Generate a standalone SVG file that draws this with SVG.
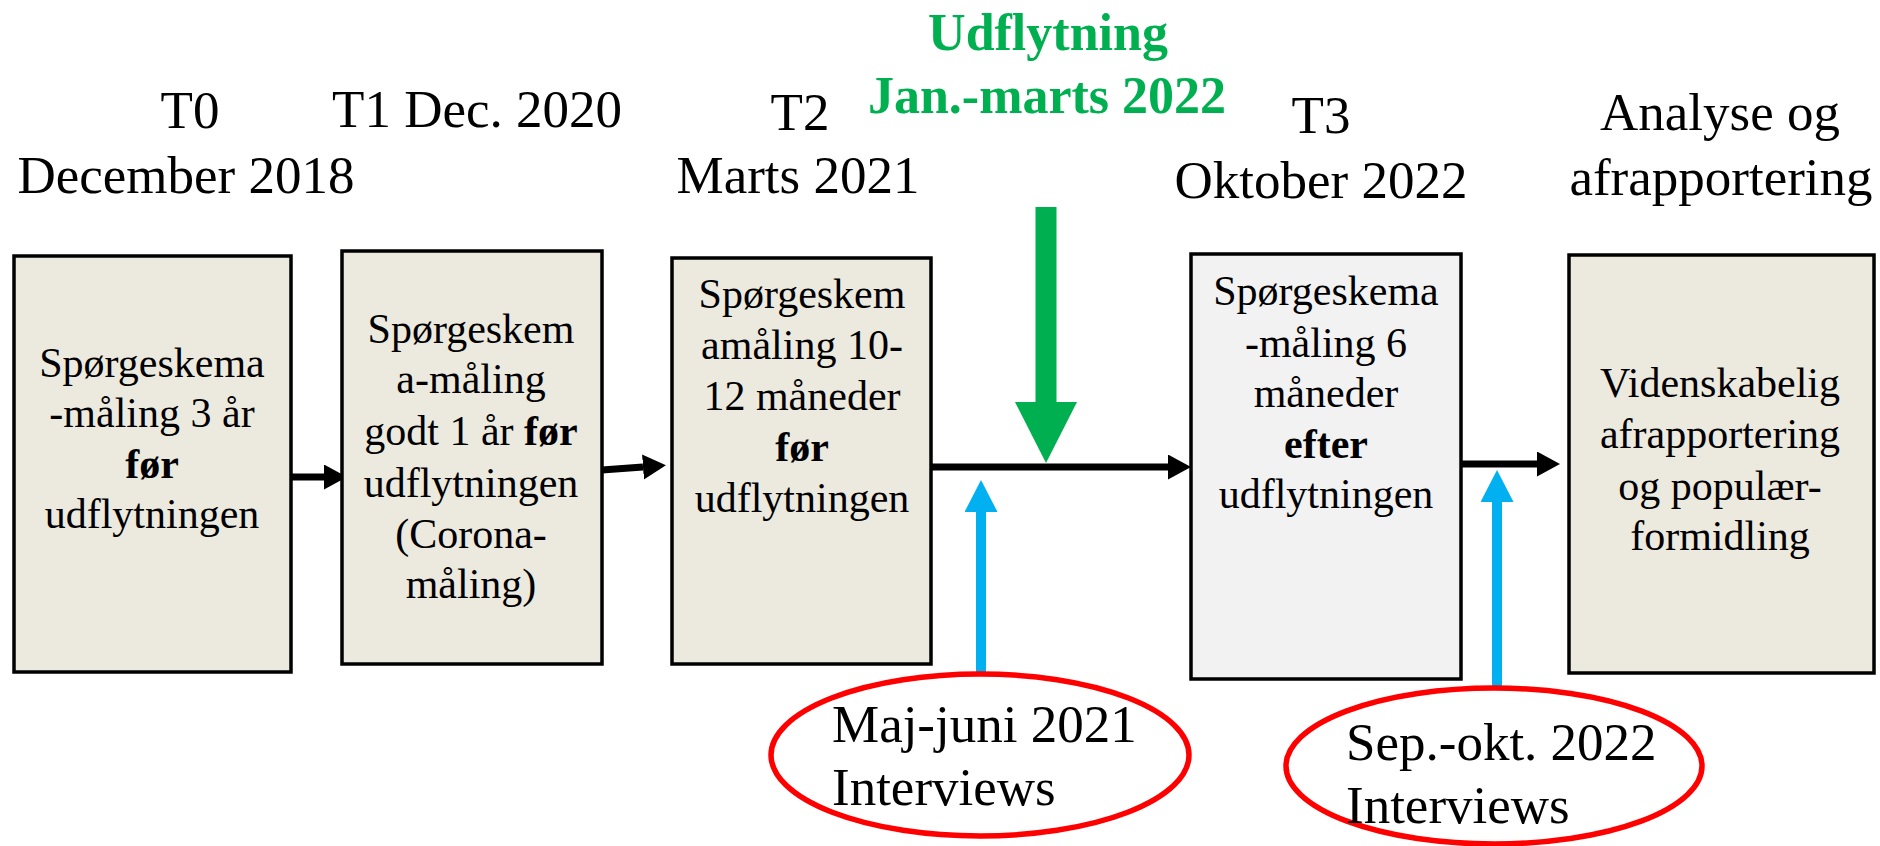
<svg xmlns="http://www.w3.org/2000/svg" width="1880" height="846" viewBox="0 0 1880 846">
<style>
text{font-family:"Liberation Serif","Times New Roman",serif;fill:#000}
.hd{font-size:53px;text-anchor:middle}
.bx{font-size:42px;text-anchor:middle}
.gr{font-size:52px;font-weight:bold;fill:#00B050;text-anchor:middle}
.ov{font-size:53px}
.box{stroke:#000;stroke-width:3.5}
.beige{fill:#ECE9DF}
.grey{fill:#F2F2F2}
.blk{stroke:#000;stroke-width:7;fill:none}
.grn{stroke:#00B050;stroke-width:21;fill:none}
.blu{stroke:#00B0F0;stroke-width:10;fill:none}
.oval{fill:none;stroke:#FF0000;stroke-width:5.5}
</style>
<defs>
<marker id="hb" markerUnits="userSpaceOnUse" markerWidth="24" markerHeight="26" refX="0" refY="12.5" orient="auto"><path d="M0,0 L23,12.5 L0,25 z" fill="#000"/></marker>
<marker id="hg" markerUnits="userSpaceOnUse" markerWidth="62" markerHeight="62" refX="0" refY="31" orient="auto"><path d="M0,0 L61,31 L0,62 z" fill="#00B050"/></marker>
<marker id="hl" markerUnits="userSpaceOnUse" markerWidth="34" markerHeight="34" refX="0" refY="16.5" orient="auto"><path d="M0,0 L32,16.5 L0,33 z" fill="#00B0F0"/></marker>
</defs>

<g id="header-t0"><text class="hd" x="190" y="128">T0</text><text class="hd" x="186" y="193">December 2018</text></g>
<g id="header-t1"><text class="hd" x="477" y="127">T1 Dec. 2020</text></g>
<g id="header-t2"><text class="hd" x="800" y="130">T2</text><text class="hd" x="798" y="193">Marts 2021</text></g>
<g id="header-udflytning"><text class="gr" x="1048" y="50">Udflytning</text><text class="gr" x="1047" y="113">Jan.-marts 2022</text></g>
<g id="header-t3"><text class="hd" x="1321" y="133">T3</text><text class="hd" x="1321" y="198">Oktober 2022</text></g>
<g id="header-analyse"><text class="hd" x="1720" y="130">Analyse og</text><text class="hd" x="1721" y="195">afrapportering</text></g>

<g id="connectors">
<line class="blk" x1="290" y1="477" x2="324" y2="477" marker-end="url(#hb)"/>
<line class="blk" x1="602" y1="470" x2="643" y2="467" marker-end="url(#hb)"/>
<line class="blk" x1="930" y1="467" x2="1168" y2="467" marker-end="url(#hb)"/>
<line class="blk" x1="1461" y1="464" x2="1537" y2="464" marker-end="url(#hb)"/>
<line class="grn" x1="1046" y1="207" x2="1046" y2="402" marker-end="url(#hg)"/>
<line class="blu" x1="981" y1="672" x2="981" y2="512" marker-end="url(#hl)"/>
<line class="blu" x1="1497" y1="687" x2="1497" y2="502" marker-end="url(#hl)"/>
</g>

<g id="box-t0"><rect class="box beige" x="14" y="256" width="277" height="416"/>
<text class="bx" x="152" y="377">Spørgeskema</text>
<text class="bx" x="152" y="427">-måling 3 år</text>
<text class="bx" x="152" y="478" font-weight="bold">før</text>
<text class="bx" x="152" y="528">udflytningen</text></g>

<g id="box-t1"><rect class="box beige" x="342" y="251" width="260" height="413"/>
<text class="bx" x="471" y="343">Spørgeskem</text>
<text class="bx" x="471" y="393">a-måling</text>
<text class="bx" x="471" y="445">godt 1 år <tspan font-weight="bold">før</tspan></text>
<text class="bx" x="471" y="497">udflytningen</text>
<text class="bx" x="471" y="548">(Corona-</text>
<text class="bx" x="471" y="598">måling)</text></g>

<g id="box-t2"><rect class="box beige" x="672" y="258" width="259" height="406"/>
<text class="bx" x="802" y="308">Spørgeskem</text>
<text class="bx" x="802" y="359">amåling 10-</text>
<text class="bx" x="802" y="410">12 måneder</text>
<text class="bx" x="802" y="461" font-weight="bold">før</text>
<text class="bx" x="802" y="512">udflytningen</text></g>

<g id="box-t3"><rect class="box grey" x="1191" y="254" width="270" height="425"/>
<text class="bx" x="1326" y="305">Spørgeskema</text>
<text class="bx" x="1326" y="357">-måling 6</text>
<text class="bx" x="1326" y="407">måneder</text>
<text class="bx" x="1326" y="458" font-weight="bold">efter</text>
<text class="bx" x="1326" y="508">udflytningen</text></g>

<g id="box-analyse"><rect class="box beige" x="1569" y="255" width="305" height="418"/>
<text class="bx" x="1720" y="397">Videnskabelig</text>
<text class="bx" x="1720" y="448">afrapportering</text>
<text class="bx" x="1720" y="500">og populær-</text>
<text class="bx" x="1720" y="550">formidling</text></g>

<g id="oval-interviews-2021"><ellipse class="oval" cx="980" cy="755" rx="209" ry="81"/>
<text class="ov" x="832" y="742">Maj-juni 2021</text>
<text class="ov" x="832" y="805">Interviews</text></g>

<g id="oval-interviews-2022"><ellipse class="oval" cx="1494" cy="766" rx="208" ry="78"/>
<text class="ov" x="1346" y="760">Sep.-okt. 2022</text>
<text class="ov" x="1346" y="823">Interviews</text></g>
</svg>
